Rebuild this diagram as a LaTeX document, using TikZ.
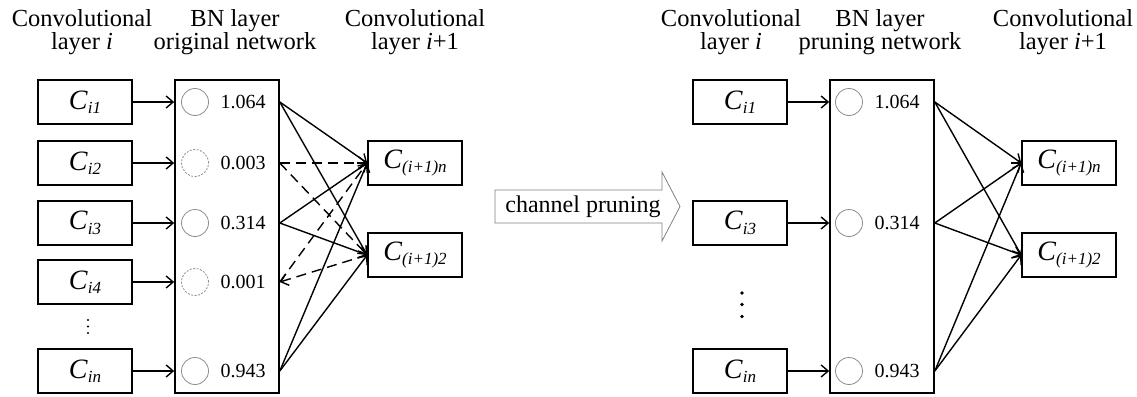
\documentclass[tikz,border=0pt]{standalone}
\usepackage{fontspec}
\setmainfont{Liberation Serif}
\usetikzlibrary{arrows.meta}
\newcommand{\Clab}[1]{\textit{C}\raisebox{-0.35ex}{\fontsize{17}{17}\selectfont\textit{#1}}}
\begin{document}
\begin{tikzpicture}[x=1pt,y=-1pt,
  cbox/.style={draw, line width=1.6pt, minimum width=94pt, minimum height=44pt, inner sep=0pt, font=\fontsize{28}{28}\selectfont},
  bnbox/.style={draw, line width=1.6pt, minimum width=104pt, minimum height=313pt, inner sep=0pt},
  circ/.style={draw=gray!90, line width=0.8pt, circle, minimum size=27pt, inner sep=0pt},
  dcirc/.style={circ, dash pattern=on 2pt off 1.5pt},
  val/.style={font=\fontsize{20}{20}\selectfont, inner sep=0pt},
  ttl/.style={font=\fontsize{24.5}{24.5}\selectfont, anchor=base, inner sep=0pt},
  conn/.style={line width=1.4pt, -{Straight Barb[length=7pt,width=12pt]}},
  dconn/.style={conn, dash pattern=on 10pt off 6pt},
  dotl/.style={fill=black}
]
\useasboundingbox (0,0) rectangle (1137,396);

% ---------------- titles left
\node[ttl] (t1a) at (82,27) {Convolutional};
\node[ttl] (t1b) at (82,50) {layer \textit{i}};
\node[ttl] (t2a) at (235,27) {BN layer};
\node[ttl] (t2b) at (235,50) {original network};
\node[ttl] (t3a) at (415,27) {Convolutional};
\node[ttl] (t3b) at (415,50) {layer \textit{i}+1};

% ---------------- left network
\node[cbox] (a1) at (85,102) {\Clab{i1}};
\node[cbox] (a2) at (85,163) {\Clab{i2}};
\node[cbox] (a3) at (85,223) {\Clab{i3}};
\node[cbox] (a4) at (85,282) {\Clab{i4}};
\node[cbox] (an) at (85,371) {\Clab{in}};
\fill[dotl] (88,320) circle (1.2pt) (88,326.5) circle (1.2pt) (88,333) circle (1.2pt);

\node[bnbox] (bnL) at (227,236.5) {};
\node[circ]  (ca1) at (195,102) {};
\node[dcirc] (ca2) at (195,163) {};
\node[circ]  (ca3) at (195,223) {};
\node[dcirc] (ca4) at (195,282) {};
\node[circ]  (can) at (195,371) {};
\node[val] (va1) at (243,102) {1.064};
\node[val] (va2) at (243,163) {0.003};
\node[val] (va3) at (243,223) {0.314};
\node[val] (va4) at (243,282) {0.001};
\node[val] (van) at (243,371) {0.943};

\foreach \r in {1,2,3,4,n}{
  \draw[conn] (a\r.east) -- (a\r.east -| bnL.west);
  \coordinate (oL\r) at (bnL.east |- ca\r);
}

\node[cbox] (cn) at (415,163) {\Clab{(i+1)n}};
\node[cbox] (c2) at (415,255) {\Clab{(i+1)2}};

\draw[conn]  (oL1) -- (cn.west);
\draw[conn]  (oL1) -- (c2.west);
\draw[dconn] (oL2) -- (cn.west);
\draw[dconn] (oL2) -- (c2.west);
\draw[conn]  (oL3) -- (cn.west);
\draw[conn]  (oL3) -- (c2.west);
\draw[dconn] (oL4) -- (cn.west);
\draw[dconn] (c2.west) -- (oL4);
\draw[conn]  (oLn) -- (cn.west);
\draw[conn]  (oLn) -- (c2.west);

% ---------------- channel pruning arrow
\draw[gray, line width=0.8pt, fill=white] (495,190) -- (662,190) -- (662,172) -- (680,206.5) -- (662,241) -- (662,223) -- (495,223) -- cycle;
\node[font=\fontsize{24}{24}\selectfont, inner sep=0pt] (cp) at (583,206.5) {channel pruning};

% ---------------- titles right
\node[ttl] (t4a) at (731,27) {Convolutional};
\node[ttl] (t4b) at (731,50) {layer \textit{i}};
\node[ttl] (t5a) at (880,27) {BN layer};
\node[ttl] (t5b) at (880,50) {pruning network};
\node[ttl] (t6a) at (1063,27) {Convolutional};
\node[ttl] (t6b) at (1063,50) {layer \textit{i}+1};

% ---------------- right network
\node[cbox] (b1) at (740,102) {\Clab{i1}};
\node[cbox] (b3) at (740,223) {\Clab{i3}};
\node[cbox] (bn) at (740,371) {\Clab{in}};
\fill[dotl] (742,293) circle (1.9pt) (742,304.5) circle (1.9pt) (742,316.5) circle (1.9pt);

\node[bnbox] (bnR) at (882,236.5) {};
\node[circ] (cb1) at (849,102) {};
\node[circ] (cb3) at (849,223) {};
\node[circ] (cbn) at (849,371) {};
\node[val] (vb1) at (897,102) {1.064};
\node[val] (vb3) at (897,223) {0.314};
\node[val] (vbn) at (897,371) {0.943};

\foreach \r in {1,3,n}{
  \draw[conn] (b\r.east) -- (b\r.east -| bnR.west);
  \coordinate (oR\r) at (bnR.east |- cb\r);
}

\node[cbox] (dn) at (1069,163) {\Clab{(i+1)n}};
\node[cbox] (d2) at (1069,255) {\Clab{(i+1)2}};

\foreach \r in {1,3,n}{
  \draw[conn] (oR\r) -- (dn.west);
  \draw[conn] (oR\r) -- (d2.west);
}
\end{tikzpicture}
\end{document}
